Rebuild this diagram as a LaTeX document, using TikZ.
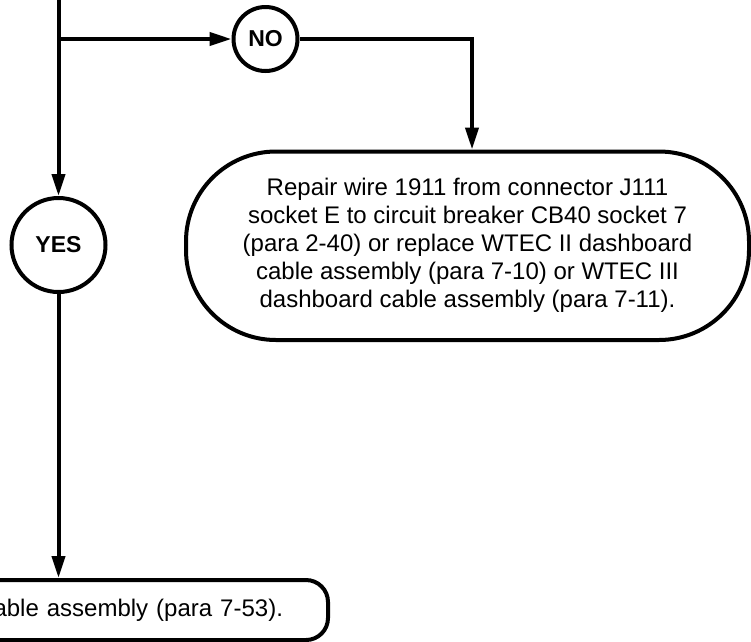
\documentclass[tikz,border=0pt]{standalone}
\usepackage{fontspec}
\setmainfont{Liberation Sans}
\usetikzlibrary{arrows.meta}
\tikzset{
  flow/.style={line width=4pt},
  arr/.style={flow, -{Triangle[length=22pt,width=13pt]}},
  answer/.style={circle, draw, line width=4pt, inner sep=0pt,
    font=\fontsize{23pt}{26pt}\selectfont\bfseries},
  action/.style={draw, line width=4pt, align=center,
    font=\fontsize{24pt}{28pt}\selectfont}
}
\begin{document}
\begin{tikzpicture}[x=1pt,y=-1pt]
\useasboundingbox (0,0) rectangle (751,641);
% nodes
\node[answer, minimum size=64pt] (no) at (265.5,39) {NO};
\node[answer, minimum size=94pt] (yes) at (58.5,245) {YES};
\node[action, rounded corners=90pt, minimum width=563pt, minimum height=188.5pt]
  (repair) at (467.5,245.75)
  {Repair wire 1911 from connector J111\\
   socket E to circuit breaker CB40 socket 7\\
   (para 2-40) or replace WTEC II dashboard\\
   cable assembly (para 7-10) or WTEC III\\
   dashboard cable assembly (para 7-11).};
\node[action, rounded corners=22pt, anchor=east, minimum height=60pt,
  text width=350pt, inner xsep=45pt, align=right]
  (replace) at (330,610) {able assembly (para 7-53).};
% coordinates
\coordinate (top) at (58.5,-10);
\coordinate (br) at (58.5,39);
\coordinate (turn) at (472,39);
% connectors
\draw[flow] (top) -- (br);
\draw[arr] (br) -- (yes.north);
\draw[arr] (br) -- (no.west);
\draw[arr] (no.east) -- (turn) -- (turn |- repair.north);
\draw[arr] (yes.south) -- (yes.south |- replace.north);
\end{tikzpicture}
\end{document}
